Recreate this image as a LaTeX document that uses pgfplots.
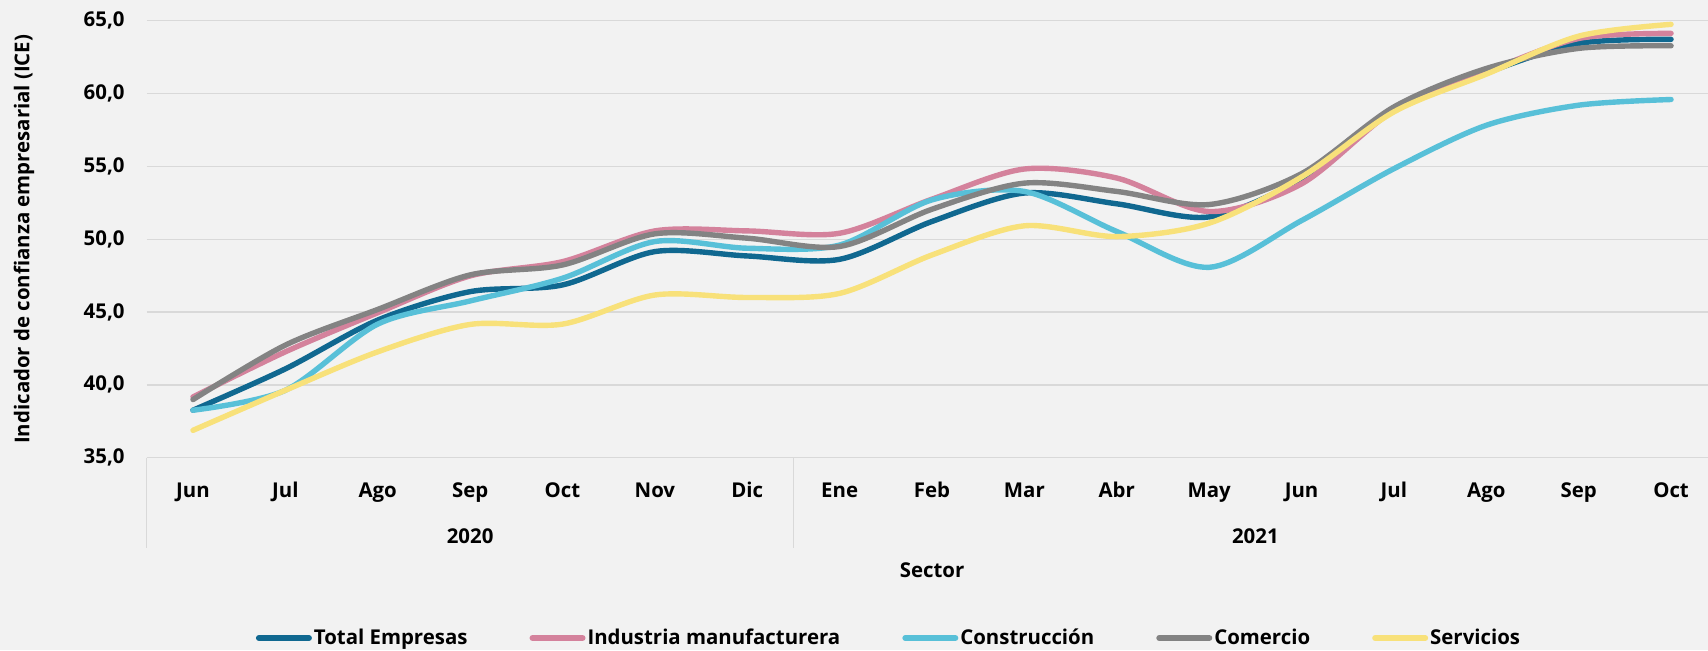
\documentclass[border=0pt]{standalone}
\usepackage{fontspec}
\setmainfont{Open Sans}
\usepackage{pgfplots}
\usepackage{pgfplotstable}
\pgfplotsset{compat=1.18}

\definecolor{bg}{HTML}{F2F2F2}
\definecolor{gridc}{HTML}{D9D9D9}
\definecolor{ctotal}{HTML}{106890}
\definecolor{cind}{HTML}{D4829C}
\definecolor{ccons}{HTML}{58C0D8}
\definecolor{ccom}{HTML}{838383}
\definecolor{cserv}{HTML}{F8E17A}

% indice de mes (0 = Jun 2020 ... 16 = Oct 2021)
\pgfplotstableread{
i  total  ind    cons   com    serv
0  38.26  39.17  38.26  38.99  36.88
1  41.10  42.27  39.63  42.73  39.63
2  44.45  44.95  44.17  45.18  42.27
3  46.40  47.48  45.76  47.55  44.15
4  46.86  48.46  47.32  48.23  44.17
5  49.15  50.57  49.84  50.37  46.17
6  48.85  50.57  49.38  50.07  46.00
7  48.62  50.41  49.60  49.50  46.28
8  51.22  52.75  52.70  52.06  48.92
9  53.17  54.82  53.28  53.85  50.92
10 52.43  54.20  50.53  53.28  50.18
11 51.53  51.90  48.07  52.38  51.10
12 54.15  53.80  51.28  54.50  54.27
13 58.85  58.85  54.84  59.08  58.74
14 61.42  61.49  57.82  61.72  61.33
15 63.44  63.78  59.20  63.10  63.94
16 63.72  64.13  59.59  63.28  64.75
}\datos

\begin{document}
\fontsize{10.2pt}{12pt}\selectfont\bfseries
\begin{tikzpicture}
\path[use as bounding box, fill=bg] (-73.4pt,-96.15pt) rectangle (780.6pt,228.85pt);
\begin{axis}[
  at={(0,0)}, anchor=south west, scale only axis,
  width=780.6pt, height=218.5pt,
  xmin=-0.5, xmax=16.4, ymin=35, ymax=65,
  axis line style={draw=none},
  ytick={35,40,...,65},
  yticklabels={{35,0},{40,0},{45,0},{50,0},{55,0},{60,0},{65,0}},
  xtick={0,...,16},
  xticklabels={Jun,Jul,Ago,Sep,Oct,Nov,Dic,Ene,Feb,Mar,Abr,May,Jun,Jul,Ago,Sep,Oct},
  major tick length=0pt,
  ymajorgrids, grid style={line width=0.7pt, color=gridc},
  yticklabel style={anchor=east, xshift=-7.5pt},
  xticklabel style={anchor=base, yshift=-19.8pt},
  clip=false,
  legend columns=5,
  legend style={at={(axis description cs:0.4754,-0.4126)}, anchor=center,
    draw=none, fill=none, nodes={inner xsep=1pt},
    /tikz/every even column/.append style={column sep=30pt}},
  legend cell align=left,
  legend image code/.code={\draw[#1, line width=3pt, line cap=round] (1.5pt,0pt) -- (26.5pt,0pt);},
  every axis plot/.append style={smooth, tension=0.5, line width=2.7pt, line cap=round},
]
\draw[gridc, line width=0.7pt] (axis cs:-0.5,35) -- ([yshift=-45.2pt]axis cs:-0.5,35);
\draw[gridc, line width=0.7pt] (axis cs:6.5,35) -- ([yshift=-45.2pt]axis cs:6.5,35);
\node[anchor=base, yshift=-43pt] at (axis cs:3,35) {2020};
\node[anchor=base, yshift=-43pt] at (axis cs:11.5,35) {2021};
\node[anchor=base, yshift=-60pt] at (axis cs:8,35) {Sector};
\node[rotate=90] at ([xshift=-61.4pt]axis cs:-0.5,50) {Indicador de confianza empresarial (ICE)};

\addplot[ctotal] table[x=i, y=total] {\datos};
\addlegendentry{Total Empresas}
\addplot[cind] table[x=i, y=ind] {\datos};
\addlegendentry{Industria manufacturera}
\addplot[ccons] table[x=i, y=cons] {\datos};
\addlegendentry{Construcción}
\addplot[ccom] table[x=i, y=com] {\datos};
\addlegendentry{Comercio}
\addplot[cserv] table[x=i, y=serv] {\datos};
\addlegendentry{Servicios}
\end{axis}
\end{tikzpicture}
\end{document}
